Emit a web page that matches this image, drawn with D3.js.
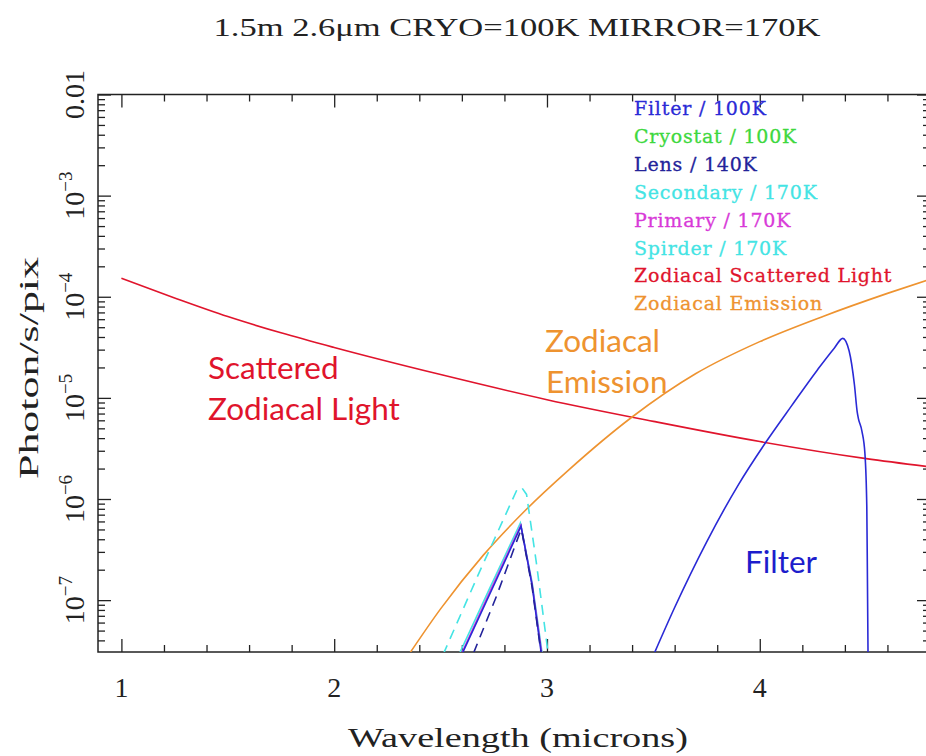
<!DOCTYPE html>
<html>
<head>
<meta charset="utf-8">
<script src="https://d3js.org/d3.v7.min.js"></script>
<style>
  body { margin: 0; background: #fff; }
  text { font-family: "Liberation Serif", serif; }
</style>
</head>
<body>
<div id="chart"></div>
<script>
// values: wavelength (microns) -> photon/s/pix
var scatteredWl = [1.0, 1.25, 1.5, 1.75, 2.0, 2.5, 3.0, 3.5, 4.0, 4.5, 4.8];
var scatteredVal = [1.52e-4, 9.73e-5, 6.37e-5, 4.4e-5, 3.15e-5, 1.70e-5, 9.6e-6, 5.86e-6, 3.70e-6, 2.51e-6, 2.08e-6];

var emissionWl = [2.34, 2.5, 2.7, 2.9, 3.1, 3.4, 3.7, 4.0, 4.3, 4.6, 4.8];
var emissionVal = [2.68e-8, 8.2e-8, 2.77e-7, 7.78e-7, 1.92e-6, 6.47e-6, 1.74e-5, 3.6e-5, 6.43e-5, 1.08e-4, 1.49e-4];

var filterWl = [3.49, 3.6, 3.75, 3.9, 4.03, 4.15, 4.27, 4.35, 4.39, 4.42, 4.445, 4.458, 4.463, 4.48, 4.494, 4.503, 4.506, 4.509];
var filterVal = [2.54e-8, 8.45e-8, 3.75e-7, 1.39e-6, 3.68e-6, 8.39e-6, 1.88e-5, 3.10e-5, 3.88e-5, 2.91e-5, 1.34e-5, 7.24e-6, 6.32e-6, 4.70e-6, 2.85e-6, 8.33e-7, 1.58e-7, 2.56e-8];

var filterBandWl = [2.603, 2.74, 2.878, 2.93, 2.973];
var filterBandVal = [3.0e-8, 1.26e-7, 5.4e-7, 1.4e-7, 3.0e-8];

var lensWl = [2.655, 2.763, 2.872, 2.88, 2.93, 2.972];
var lensVal = [3.0e-8, 1.1e-7, 4.6e-7, 5.0e-7, 1.35e-7, 3.0e-8];

var secondaryWl = [2.512, 2.685, 2.86, 2.881, 2.904, 2.951, 3.006];
var secondaryVal = [2.9e-8, 1.95e-7, 1.25e-6, 1.3e-6, 1.11e-6, 2.27e-7, 2.9e-8];

var primaryWl = [2.6, 2.735, 2.877, 2.93, 2.975];
var primaryVal = [3.0e-8, 1.26e-7, 5.5e-7, 1.44e-7, 3.0e-8];

var spirderWl = [2.59, 2.73, 2.875, 2.93, 2.977];
var spirderVal = [3.0e-8, 1.3e-7, 5.8e-7, 1.5e-7, 3.0e-8];

var xMajor = [1, 2, 3, 4];
var yMajor = [1e-2, 1e-3, 1e-4, 1e-5, 1e-6, 1e-7];
var yMajorExp = ["", "3", "4", "5", "6", "7"];

var legendNames = ["Filter / 100K", "Cryostat / 100K", "Lens / 140K", "Secondary / 170K",
  "Primary / 170K", "Spirder / 170K", "Zodiacal Scattered Light", "Zodiacal Emission"];
var legendColors = ["#2a2ad6", "#3ed83e", "#23239a", "#44e4e4", "#d83ad8", "#44e4e4", "#e0142c", "#ee9330"];

var width = 926, height = 756;
var margin = { top: 94.5, right: -4, bottom: 104, left: 98 };

var svg = d3.select("#chart").append("svg")
  .attr("width", width)
  .attr("height", height)
  .style("background", "#fff");

var x = d3.scaleLinear().domain([0.89, 4.8]).range([margin.left, width - margin.right]);
var y = d3.scaleLog().domain([3.07e-8, 0.01]).range([height - margin.bottom, margin.top]);

svg.append("defs").append("clipPath").attr("id", "plotclip")
  .append("rect")
  .attr("x", margin.left).attr("y", margin.top)
  .attr("width", width - margin.right - margin.left)
  .attr("height", height - margin.bottom - margin.top);

// ticks
var xMinor = d3.range(10, 49, 2).map(function (d) { return d / 10; })
  .filter(function (d) { return d % 1 !== 0; });
var yMinor = [];
for (var k = -8; k <= -3; k++) {
  for (var m = 2; m <= 9; m++) {
    var v = m * Math.pow(10, k);
    if (v > y.domain()[0] && v < y.domain()[1]) yMinor.push(v);
  }
}

function drawAxis(axis, tx, ty) {
  var g = svg.append("g").attr("transform", "translate(" + tx + "," + ty + ")").call(axis);
  g.select(".domain").remove();
  g.selectAll(".tick line").attr("stroke", "#222").attr("stroke-width", 1.3);
  g.selectAll(".tick text").remove();
}
var yb = height - margin.bottom, yt = margin.top;
var xl = margin.left, xr = width - margin.right;
drawAxis(d3.axisBottom(x).tickValues(xMajor).tickSize(-13), 0, yb);
drawAxis(d3.axisBottom(x).tickValues(xMinor).tickSize(-7), 0, yb);
drawAxis(d3.axisTop(x).tickValues(xMajor).tickSize(-13), 0, yt);
drawAxis(d3.axisTop(x).tickValues(xMinor).tickSize(-7), 0, yt);
drawAxis(d3.axisLeft(y).tickValues(yMajor).tickSize(-13), xl, 0);
drawAxis(d3.axisLeft(y).tickValues(yMinor).tickSize(-7), xl, 0);
drawAxis(d3.axisRight(y).tickValues(yMajor).tickSize(-13), xr, 0);
drawAxis(d3.axisRight(y).tickValues(yMinor).tickSize(-7), xr, 0);

svg.append("rect")
  .attr("x", xl).attr("y", yt)
  .attr("width", xr - xl).attr("height", yb - yt)
  .attr("fill", "none").attr("stroke", "#222").attr("stroke-width", 1.5);

// tick labels
svg.selectAll(".xlab").data(xMajor).enter().append("text")
  .attr("x", function (d) { return x(d); })
  .attr("y", 697)
  .attr("text-anchor", "middle")
  .style("font-size", "28px")
  .attr("fill", "#222")
  .text(function (d) { return d; });

yMajor.forEach(function (d, i) {
  var t = svg.append("text")
    .attr("transform", "translate(84," + y(d) + ") rotate(-90)")
    .attr("text-anchor", "middle")
    .style("font-size", "28px")
    .attr("fill", "#222");
  if (yMajorExp[i] === "") {
    t.text("0.01");
  } else {
    t.append("tspan").text("10");
    t.append("tspan").attr("dy", -12).style("font-size", "19px").text("\u2212" + yMajorExp[i]);
  }
});

// axis titles
svg.append("text")
  .attr("x", 518).attr("y", 747)
  .attr("text-anchor", "middle")
  .attr("textLength", 340).attr("lengthAdjust", "spacingAndGlyphs")
  .style("font-size", "28px").attr("fill", "#222")
  .text("Wavelength (microns)");

svg.append("text")
  .attr("transform", "translate(38,368) rotate(-90)")
  .attr("text-anchor", "middle")
  .attr("textLength", 222).attr("lengthAdjust", "spacingAndGlyphs")
  .style("font-size", "28px").attr("fill", "#222")
  .text("Photon/s/pix");

svg.append("text")
  .attr("x", 517).attr("y", 36)
  .attr("text-anchor", "middle")
  .attr("textLength", 607).attr("lengthAdjust", "spacingAndGlyphs")
  .style("font-size", "26px").attr("fill", "#222")
  .text("1.5m 2.6\u03bcm CRYO=100K MIRROR=170K");

// curves
function series(wl, val) {
  return wl.map(function (d, i) { return [d, val[i]]; });
}
var line = d3.line()
  .x(function (d) { return x(d[0]); })
  .y(function (d) { return y(d[1]); })
  .curve(d3.curveMonotoneX);
var straight = d3.line()
  .x(function (d) { return x(d[0]); })
  .y(function (d) { return y(d[1]); });

var plot = svg.append("g").attr("clip-path", "url(#plotclip)");

function drawLine(data, color, gen, dash) {
  plot.append("path")
    .datum(data)
    .attr("d", gen)
    .attr("fill", "none")
    .attr("stroke", color)
    .attr("stroke-width", 1.6)
    .attr("stroke-dasharray", dash || null);
}

drawLine(series(scatteredWl, scatteredVal), legendColors[6], line);
drawLine(series(emissionWl, emissionVal), legendColors[7], line);
drawLine(series(secondaryWl, secondaryVal), legendColors[3], straight, "10,7");
drawLine(series(spirderWl, spirderVal), legendColors[5], straight);
drawLine(series(primaryWl, primaryVal), legendColors[4], straight);
drawLine(series(filterBandWl, filterBandVal), legendColors[0], straight);
drawLine(series(lensWl, lensVal), legendColors[2], straight, "10,7");
drawLine(series(filterWl, filterVal), legendColors[0], line);

// legend
svg.selectAll(".leg").data(legendNames).enter().append("text")
  .attr("x", 634)
  .attr("y", function (d, i) { return 115 + i * 27.9; })
  .style("font-family", "'DejaVu Serif', serif")
  .style("font-size", "19px")
  .style("letter-spacing", "0.8px")
  .attr("fill", function (d, i) { return legendColors[i]; })
  .attr("stroke", function (d, i) { return legendColors[i]; })
  .attr("stroke-width", 0.3)
  .text(function (d) { return d; });

// annotations
var notes = [
  { t: "Scattered", x: 208, y: 379, c: legendColors[6] },
  { t: "Zodiacal Light", x: 208, y: 420, c: legendColors[6] },
  { t: "Zodiacal", x: 545, y: 352, c: legendColors[7] },
  { t: "Emission", x: 546, y: 393, c: legendColors[7] },
  { t: "Filter", x: 745, y: 573, c: "#1d1dcc" }
];
svg.selectAll(".note").data(notes).enter().append("text")
  .attr("x", function (d) { return d.x; })
  .attr("y", function (d) { return d.y; })
  .style("font-family", "Lato, sans-serif")
  .style("font-size", "31.5px")
  .attr("fill", function (d) { return d.c; })
  .text(function (d) { return d.t; });
</script>
</body>
</html>
